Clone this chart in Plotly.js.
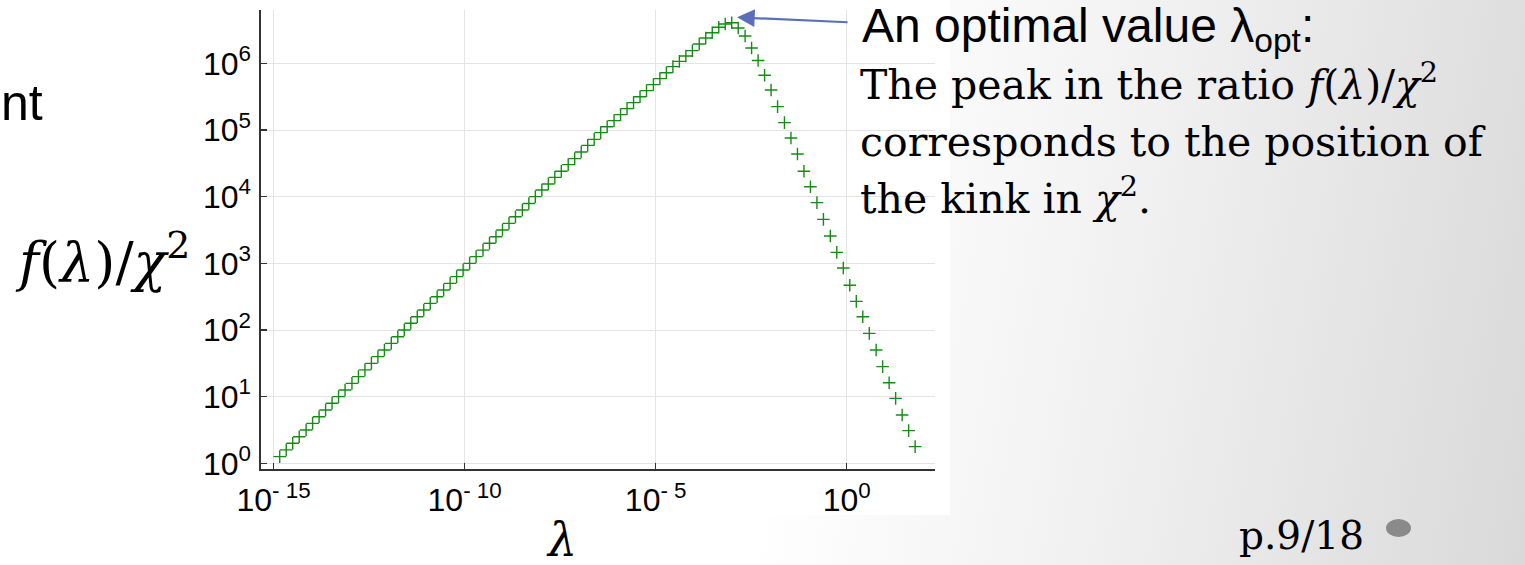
<!DOCTYPE html>
<html>
<head>
<meta charset="utf-8">
<script src="https://cdn.plot.ly/plotly-3.0.1.min.js"></script>
<style>
  html, body { margin: 0; padding: 0; }
  body {
    width: 1525px; height: 565px; overflow: hidden;
    background: linear-gradient(100deg, #ffffff 0%, #ffffff 52%, #f1f1f1 72%, #d9d9d9 100%);
  }
  #chart { width: 1525px; height: 565px; }
</style>
</head>
<body>
<div id="chart"></div>
<script>
// regularization parameter lambda, as powers of ten
const lambdaExp = [
  -14.84, -14.67, -14.50, -14.33, -14.15, -13.98, -13.81, -13.64, -13.47, -13.30,
  -13.13, -12.95, -12.78, -12.61, -12.44, -12.27, -12.10, -11.92, -11.75, -11.58,
  -11.41, -11.24, -11.07, -10.90, -10.72, -10.55, -10.38, -10.21, -10.04, -9.87,
  -9.70, -9.52, -9.35, -9.18, -9.01, -8.84, -8.67, -8.49, -8.32, -8.15,
  -7.98, -7.81, -7.64, -7.47, -7.29, -7.12, -6.95, -6.78, -6.61, -6.44,
  -6.27, -6.09, -5.92, -5.75, -5.58, -5.41, -5.24, -5.06, -4.89, -4.72,
  -4.55, -4.38, -4.21, -4.04, -3.86, -3.69, -3.52, -3.35, -3.18, -3.01,
  -2.84, -2.66, -2.49, -2.32, -2.15, -1.98, -1.81, -1.63, -1.46, -1.29,
  -1.12, -0.95, -0.78, -0.61, -0.43, -0.26, -0.09, 0.08, 0.25, 0.42,
  0.59, 0.77, 0.94, 1.11, 1.28, 1.45, 1.62, 1.79
];

// ratio f(lambda) / chi^2
const ratio = [
  1.26, 1.59, 2.0, 2.51, 3.17, 3.98, 5.0, 6.31, 7.96, 10.0,
  12.6, 15.8, 20.0, 25.2, 31.6, 39.8, 50.2, 63.1, 79.4, 100,
  126, 158, 200, 251, 316, 398, 501, 631, 794, 1000,
  1.26e3, 1.58e3, 2.0e3, 2.51e3, 3.16e3, 3.98e3, 5.0e3, 6.3e3, 7.9e3, 1.0e4,
  1.26e4, 1.55e4, 1.95e4, 2.40e4, 3.02e4, 3.72e4, 4.68e4, 5.89e4, 7.24e4, 9.12e4,
  1.12e5, 1.38e5, 1.70e5, 2.09e5, 2.57e5, 3.16e5, 3.89e5, 4.79e5, 5.89e5, 7.24e5,
  8.91e5, 1.07e6, 1.29e6, 1.55e6, 1.95e6, 2.40e6, 2.88e6, 3.47e6, 3.89e6, 4.07e6,
  3.39e6, 2.57e6, 1.70e6, 1.10e6, 6.61e5, 3.98e5, 2.24e5, 1.29e5, 7.59e4, 4.37e4,
  2.40e4, 1.41e4, 8.13e3, 4.57e3, 2.57e3, 1.46e3, 851, 468, 269, 158,
  89.1, 50.1, 28.2, 16.2, 9.44, 5.31, 3.09, 1.78
];

const xTickVals = [1e-15, 1e-10, 1e-5, 1];
const xTickText = ['10<sup>- 15</sup>', '10<sup>- 10</sup>', '10<sup>- 5</sup>', '10<sup>0</sup>'];
const yTickVals = [1, 10, 100, 1e3, 1e4, 1e5, 1e6];
const yTickText = ['10<sup>0</sup>', '10<sup>1</sup>', '10<sup>2</sup>', '10<sup>3</sup>',
                   '10<sup>4</sup>', '10<sup>5</sup>', '10<sup>6</sup>'];

const lambdaOptExp = -2.87;   // arrow tip: the peak of the ratio
const lambdaOptLogY = 6.69;

const lambda = lambdaExp.map(e => Math.pow(10, e));

// page geometry in pixels
const W = 1525, H = 565;
const M = { l: 261, r: 590, t: 10, b: 96 };
const PW = W - M.l - M.r, PH = H - M.t - M.b;
const px = x => (x - M.l) / PW;
const py = y => (H - M.b - y) / PH;

const sans = 'Liberation Sans, Arial, sans-serif';
const serif = 'DejaVu Serif, serif';

const trace = {
  x: lambda,
  y: ratio,
  type: 'scatter',
  mode: 'markers',
  marker: {
    symbol: 'cross-thin-open',
    size: 9,
    color: 'rgb(20,140,20)',
    line: { color: 'rgb(20,140,20)', width: 1.4 }
  },
  hoverinfo: 'x+y'
};

const axisCommon = {
  type: 'log',
  showgrid: true,
  gridcolor: '#e4e4e4',
  gridwidth: 1,
  zeroline: false,
  showline: true,
  linecolor: '#333333',
  linewidth: 1.6,
  ticks: 'inside',
  ticklen: 6,
  tickwidth: 1.2,
  tickcolor: '#333333',
  tickmode: 'array',
  tickfont: { family: sans, size: 32, color: '#000' }
};

const layout = {
  width: W, height: H,
  margin: M,
  paper_bgcolor: 'rgba(0,0,0,0)',
  plot_bgcolor: 'rgba(0,0,0,0)',
  showlegend: false,
  xaxis: Object.assign({}, axisCommon, {
    range: [-15.33, 2.31],
    tickvals: xTickVals, ticktext: xTickText,
    ticklabelstandoff: 2
  }),
  yaxis: Object.assign({}, axisCommon, {
    range: [-0.085, 6.80],
    tickvals: yTickVals, ticktext: yTickText,
    ticklabelstandoff: 2
  }),
  shapes: [
    { type: 'rect', xref: 'paper', yref: 'paper', layer: 'below',
      x0: px(0), x1: px(950), y0: py(515), y1: py(0),
      fillcolor: '#ffffff', line: { width: 0 } },
    { type: 'circle', xref: 'paper', yref: 'paper',
      x0: px(1386), x1: px(1411), y0: py(537), y1: py(519),
      fillcolor: '#8a8a8a', line: { width: 0 } }
  ],
  annotations: [
    // arrow to the optimum
    { x: lambdaOptExp, y: lambdaOptLogY, xref: 'x', yref: 'y',
      showarrow: true, arrowhead: 2, arrowsize: 1.6, arrowwidth: 2.2,
      arrowcolor: '#5a6fb8', ax: 112, ay: 5, text: '' },
    // explanatory text
    { xref: 'paper', yref: 'paper', x: px(860), y: py(29), xanchor: 'left', yanchor: 'middle',
      showarrow: false, font: { family: sans, size: 48, color: '#000' },
      text: 'An optimal value λ<sub>opt</sub>:' },
    { xref: 'paper', yref: 'paper', x: px(858), y: py(82), xanchor: 'left', yanchor: 'middle',
      showarrow: false, font: { family: serif, size: 41, color: '#000' },
      text: 'The peak in the ratio <i>f</i>(<i>λ</i>)/<i>χ</i><sup>2</sup>' },
    { xref: 'paper', yref: 'paper', x: px(858), y: py(142), xanchor: 'left', yanchor: 'middle',
      showarrow: false, font: { family: serif, size: 41, color: '#000' },
      text: 'corresponds to the position of' },
    { xref: 'paper', yref: 'paper', x: px(858), y: py(196), xanchor: 'left', yanchor: 'middle',
      showarrow: false, font: { family: serif, size: 41, color: '#000' },
      text: 'the kink in <i>χ</i><sup>2</sup>.' },
    // axis titles
    { xref: 'paper', yref: 'paper', x: px(102), y: py(258), xanchor: 'center', yanchor: 'middle',
      showarrow: false, font: { family: serif, size: 54, color: '#000' },
      text: '<i>f</i>(<i>λ</i>)/<i>χ</i><sup>2</sup>' },
    { xref: 'paper', yref: 'paper', x: px(561), y: py(540), xanchor: 'center', yanchor: 'middle',
      showarrow: false, font: { family: serif, size: 46, color: '#000' },
      text: '<i>λ</i>' },
    // slide fragments
    { xref: 'paper', yref: 'paper', x: px(45), y: py(103), xanchor: 'right', yanchor: 'middle',
      showarrow: false, font: { family: sans, size: 50, color: '#000' },
      text: 'nt' },
    { xref: 'paper', yref: 'paper', x: px(1237), y: py(535), xanchor: 'left', yanchor: 'middle',
      showarrow: false, font: { family: serif, size: 39, color: '#000' },
      text: 'p.9/18' }
  ]
};

Plotly.newPlot('chart', [trace], layout, { displayModeBar: false, staticPlot: true });
</script>
</body>
</html>
